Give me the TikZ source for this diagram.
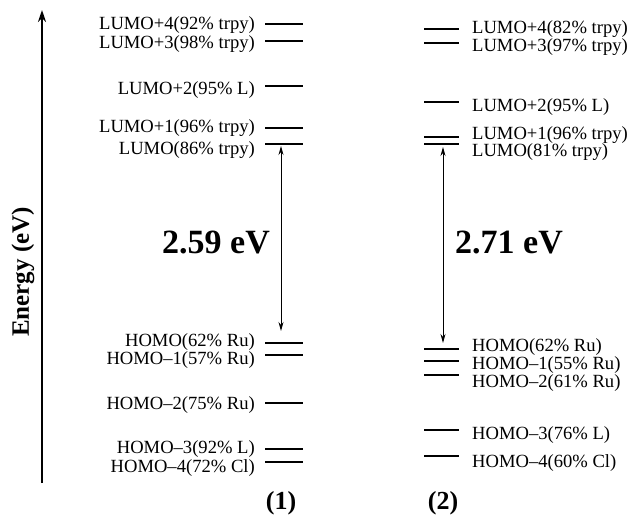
\documentclass[tikz,border=0pt]{standalone}
\usepackage{fontspec}
\setmainfont{Liberation Serif}
\usetikzlibrary{arrows.meta}
\begin{document}
\begin{tikzpicture}[x=1pt,y=-1pt,
  level/.style={line width=2.4pt},
  lbl/.style={inner sep=0pt,font=\fontsize{18.6}{19}\selectfont},
  lblL/.style={lbl,anchor=east},
  lblR/.style={lbl,anchor=west},
  gap/.style={line width=0.9pt,{Stealth[length=9pt,width=5pt]}-{Stealth[length=9pt,width=5pt]}},
  big/.style={inner sep=0pt,font=\fontsize{34}{36}\selectfont\bfseries},
  tag/.style={inner sep=0pt,font=\fontsize{26}{28}\selectfont\bfseries}]
\useasboundingbox (0,0) rectangle (638,516);
% energy axis
\coordinate (axb) at (42,483);
\coordinate (axt) at (42,10);
\draw[line width=2.2pt,-{Stealth[length=12pt,width=8pt]}] (axb) -- (axt);
\node[inner sep=0pt,rotate=90,font=\fontsize{25}{27}\selectfont\bfseries] (elab) at (23,272) {Energy (eV)};
% column (1)
\foreach \y/\t/\ly [count=\i] in {24/LUMO+4(92\% trpy)/25, 41/LUMO+3(98\% trpy)/44, 86/LUMO+2(95\% L)/90, 128/LUMO+1(96\% trpy)/128, 144/LUMO(86\% trpy)/150, 343/HOMO(62\% Ru)/342, 355/HOMO–1(57\% Ru)/360, 403/HOMO–2(75\% Ru)/405, 449/HOMO–3(92\% L)/449, 462/HOMO–4(72\% Cl)/468}{
  \draw[level] (265,\y) coordinate (a\i l) -- (303,\y) coordinate (a\i r);
  \node[lblL] (ta\i) at (255,\ly) {\t};
}
% column (2)
\foreach \y/\t/\ly [count=\i] in {29/LUMO+4(82\% trpy)/29, 43/LUMO+3(97\% trpy)/47, 102/LUMO+2(95\% L)/107, 137/LUMO+1(96\% trpy)/135, 144/LUMO(81\% trpy)/152, 349/HOMO(62\% Ru)/347, 361/HOMO–1(55\% Ru)/365, 375/HOMO–2(61\% Ru)/383, 430/HOMO–3(76\% L)/435, 456/HOMO–4(60\% Cl)/463}{
  \draw[level] (424,\y) coordinate (b\i l) -- (459,\y) coordinate (b\i r);
  \node[lblR] (tb\i) at (472,\ly) {\t};
}
% gap arrows
\coordinate (g1t) at (281,146);
\coordinate (g1b) at (281,331);
\coordinate (g2t) at (443,147);
\coordinate (g2b) at (443,343);
\draw[gap] (g1t) -- (g1b);
\draw[gap] (g2t) -- (g2b);
\node[big] (e1) at (216,243) {2.59 eV};
\node[big] (e2) at (509,243) {2.71 eV};
\node[tag] (c1) at (281,503) {(1)};
\node[tag] (c2) at (443,503) {(2)};
\end{tikzpicture}
\end{document}
